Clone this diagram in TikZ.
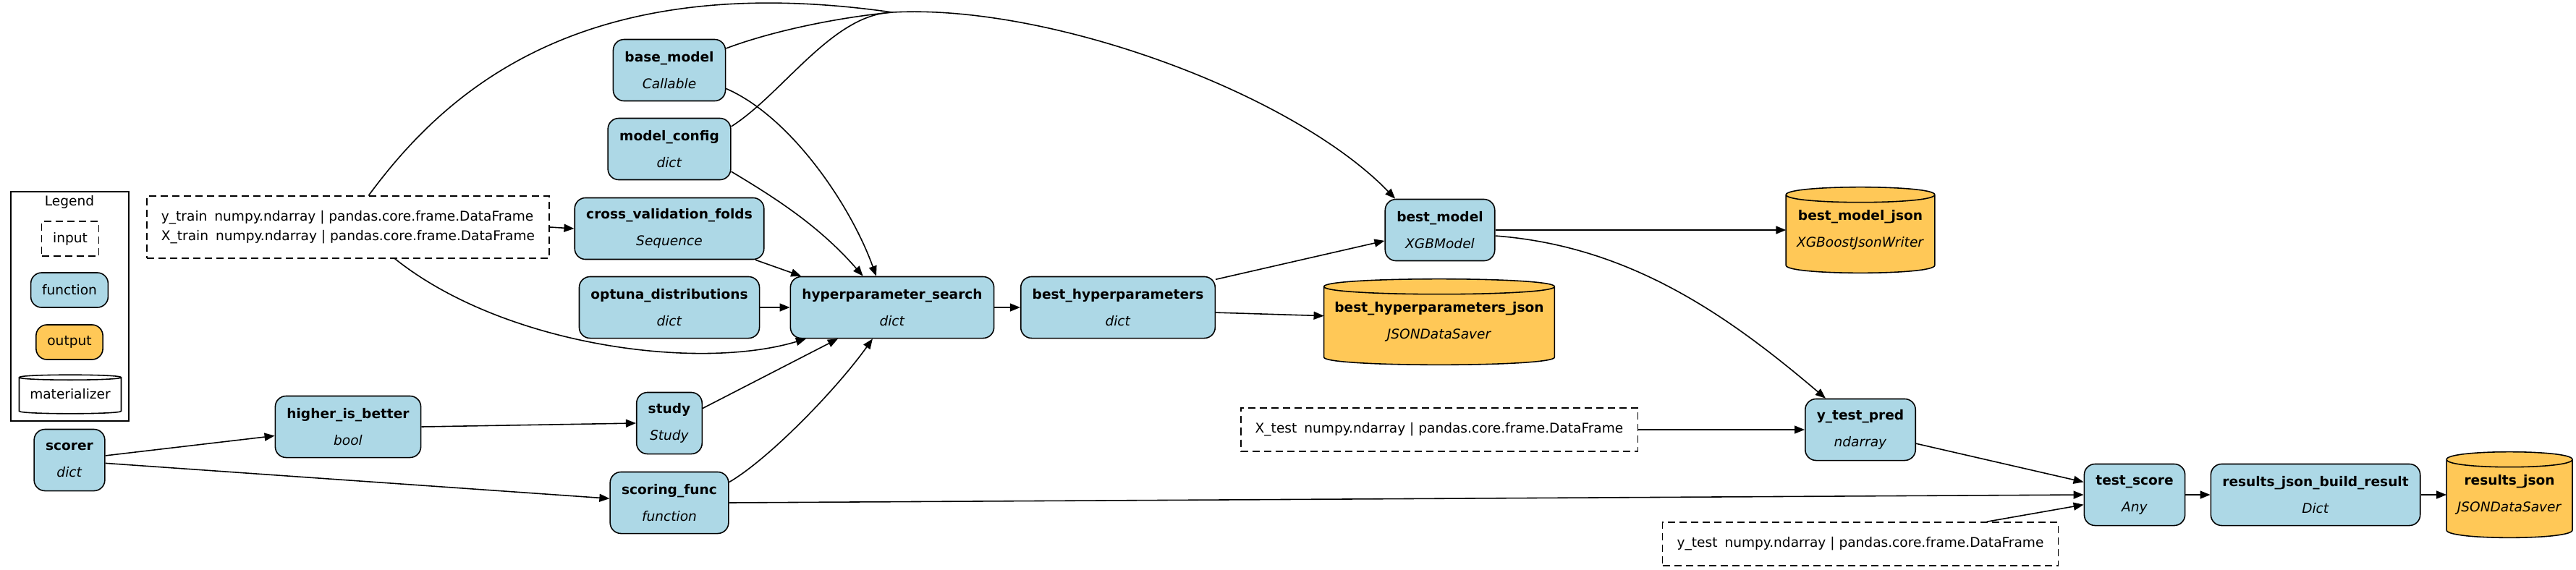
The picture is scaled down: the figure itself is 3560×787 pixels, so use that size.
\documentclass[tikz,border=0pt]{standalone}
\usepackage{fontspec}
\setmainfont{DejaVu Sans}
\usetikzlibrary{arrows.meta,backgrounds}

\definecolor{fnblue}{HTML}{ADD8E6}
\definecolor{outyellow}{HTML}{FFC857}

\tikzset{
	base/.style={draw, line width=0.45pt, align=center, font=\fontsize{5.28}{10.5}\selectfont},
	fn/.style={base, rounded corners=0.15cm, fill=fnblue, minimum height=0.85cm, inner xsep=0.16cm, inner ysep=0.1cm},
	outbox/.style={base, rounded corners=0.15cm, fill=outyellow, minimum height=0.48cm, inner xsep=0.155cm},
	saver/.style={base, draw=none, minimum height=1.17cm, inner xsep=0.14cm},
	inp/.style={base, dash pattern=on 0.1cm off 0.06cm, fill=white, inner xsep=0.2cm, inner ysep=0.2cm, minimum height=0.6cm, font=\fontsize{5.28}{7.7}\selectfont},
	edge/.style={->, line width=0.45pt},
}
\newcommand{\fnlabel}[2]{\textbf{#1}\\\textit{#2}}
% цилиндр вокруг узла: имя, заливка, полувысота крышки
\newcommand{\drum}[3]{%
	\draw[line width=0.45pt, fill=#2]
		([yshift=-#3]#1.north west) -- ([yshift=#3]#1.south west)
		.. controls +(0,{-4/3*#3}) and +(0,{-4/3*#3}) .. ([yshift=#3]#1.south east)
		-- ([yshift=-#3]#1.north east)
		.. controls +(0,{4/3*#3}) and +(0,{4/3*#3}) .. ([yshift=-#3]#1.north west) -- cycle
		([yshift=-#3]#1.north west)
		.. controls +(0,{-4/3*#3}) and +(0,{-4/3*#3}) .. ([yshift=-#3]#1.north east);}

\begin{document}
\begin{tikzpicture}[x=0.01cm, y=-0.01cm, >={Triangle[length=0.14cm, width=0.11cm]}]
	\useasboundingbox (0,0) rectangle (3560,787);

	% Легенда
	\node[draw, line width=0.45pt, minimum width=1.63cm, minimum height=3.17cm] (legend) at (96.5,423.5) {};
	\node[font=\fontsize{5.28}{7}\selectfont] (legtitle) at (96,279) {Legend};
	\node[inp, inner xsep=0.155cm, inner ysep=0.1cm, minimum height=0.48cm] (legin) at (97,330) {input};
	\node[fn, minimum height=0.48cm, inner xsep=0.155cm] (legfn) at (96,401) {function};
	\node[outbox] (legout) at (96,473) {output};
	\node[saver, minimum height=0.52cm] (legmat) at (97,545) {\raisebox{-0.3mm}{materializer}};

	% Входы
	\node[inp, align=left] (xtrain) at (481,314) {y\_train\hspace{0.1cm}numpy.ndarray | pandas.core.frame.DataFrame\\X\_train\hspace{0.1cm}numpy.ndarray | pandas.core.frame.DataFrame};
	\node[inp] (xtest) at (1989,594) {X\_test\hspace{0.1cm}numpy.ndarray | pandas.core.frame.DataFrame};
	\node[inp] (ytest) at (2571,752) {y\_test\hspace{0.1cm}numpy.ndarray | pandas.core.frame.DataFrame};

	% Функции
	\node[fn] (scorer) at (96,636) {\fnlabel{scorer}{dict}};
	\node[fn] (hib) at (481,590) {\fnlabel{higher\_is\_better}{bool}};
	\node[fn] (bm) at (925,97) {\fnlabel{base\_model}{Callable}};
	\node[fn] (mc) at (925,206) {\fnlabel{model\_config}{dict}};
	\node[fn] (cvf) at (925,316) {\fnlabel{cross\_validation\_folds}{Sequence}};
	\node[fn] (od) at (925,425) {\fnlabel{optuna\_distributions}{dict}};
	\node[fn] (study) at (925,585) {\fnlabel{study}{Study}};
	\node[fn] (sf) at (925,695) {\fnlabel{scoring\_func}{function}};
	\node[fn] (hps) at (1233,425) {\fnlabel{hyperparameter\_search}{dict}};
	\node[fn] (bhp) at (1545,425) {\fnlabel{best\_hyperparameters}{dict}};
	\node[fn] (bmod) at (1990,318) {\fnlabel{best\_model}{XGBModel}};
	\node[fn] (ytp) at (2571,594) {\fnlabel{y\_test\_pred}{ndarray}};
	\node[fn] (ts) at (2950,684) {\fnlabel{test\_score}{Any}};
	\node[fn] (rjbr) at (3200,684) {\fnlabel{results\_json\_build\_result}{Dict}};

	% Сохранение
	\node[saver] (bhpj) at (1989,445) {\fnlabel{best\_hyperparameters\_json}{JSONDataSaver}};
	\node[saver] (bmj) at (2571,318) {\fnlabel{best\_model\_json}{XGBoostJsonWriter}};
	\node[saver] (rj) at (3468,684) {\fnlabel{results\_json}{JSONDataSaver}};

	\begin{scope}[on background layer]
		\drum{legmat}{white}{0.35mm}
		\drum{bhpj}{outyellow}{1.05mm}
		\drum{bmj}{outyellow}{1.05mm}
		\drum{rj}{outyellow}{1.05mm}
	\end{scope}

	% Стрелки
	\coordinate (J) at (1233,17);
	\draw[edge] (xtrain.east) -- (cvf.west);
	\draw[edge] (xtrain.-34) .. controls +(150,120) and +(-150,45) .. (hps.200);
	\draw[line width=0.45pt] (xtrain.57) .. controls +(104,-141) and +(-433,-62) .. (J);
	\draw[line width=0.45pt] (bm.21) .. controls +(58,-22) and +(-83,8) .. (J);
	\draw[line width=0.45pt] (mc.20) .. controls +(71,-45) and +(-83,3) .. (J);
	\draw[edge] (J) .. controls +(217,-12) and +(-141,-146) .. (bmod.145);
	\draw[edge] (bm.-18) .. controls +(88,38) and +(-36,-100) .. (hps.117);
	\draw[edge] (mc.-20) .. controls +(60,36) and +(-61,-70) .. (hps.133);
	\draw[edge] (cvf.-20) -- (hps.161);
	\draw[edge] (od.east) -- (hps.west);
	\draw[edge] (study.24) -- (hps.210);
	\draw[edge] (sf.19) .. controls +(55,-32) and +(-50,70) .. (hps.-122);
	\draw[edge] (sf.east) -- (ts.west);
	\draw[edge] (scorer.7) -- (hib.187);
	\draw[edge] (scorer.-5) -- (sf.176);
	\draw[edge] (hib.east) -- (study.west);
	\draw[edge] (hps.east) -- (bhp.west);
	\draw[edge] (bhp.16) -- (bmod.191);
	\draw[edge] (bhp.-3) -- (bhpj.177);
	\draw[edge] (bmod.east) -- (bmj.west);
	\draw[edge] (bmod.-6) .. controls +(186,14) and +(-134,-114) .. (ytp.138);
	\draw[edge] (xtest.east) -- (ytp.west);
	\draw[edge] (ytp.-14) -- (ts.166);
	\draw[edge] (ytest.10) -- (ts.191);
	\draw[edge] (ts.east) -- (rjbr.west);
	\draw[edge] (rjbr.east) -- (rj.west);
\end{tikzpicture}
\end{document}
